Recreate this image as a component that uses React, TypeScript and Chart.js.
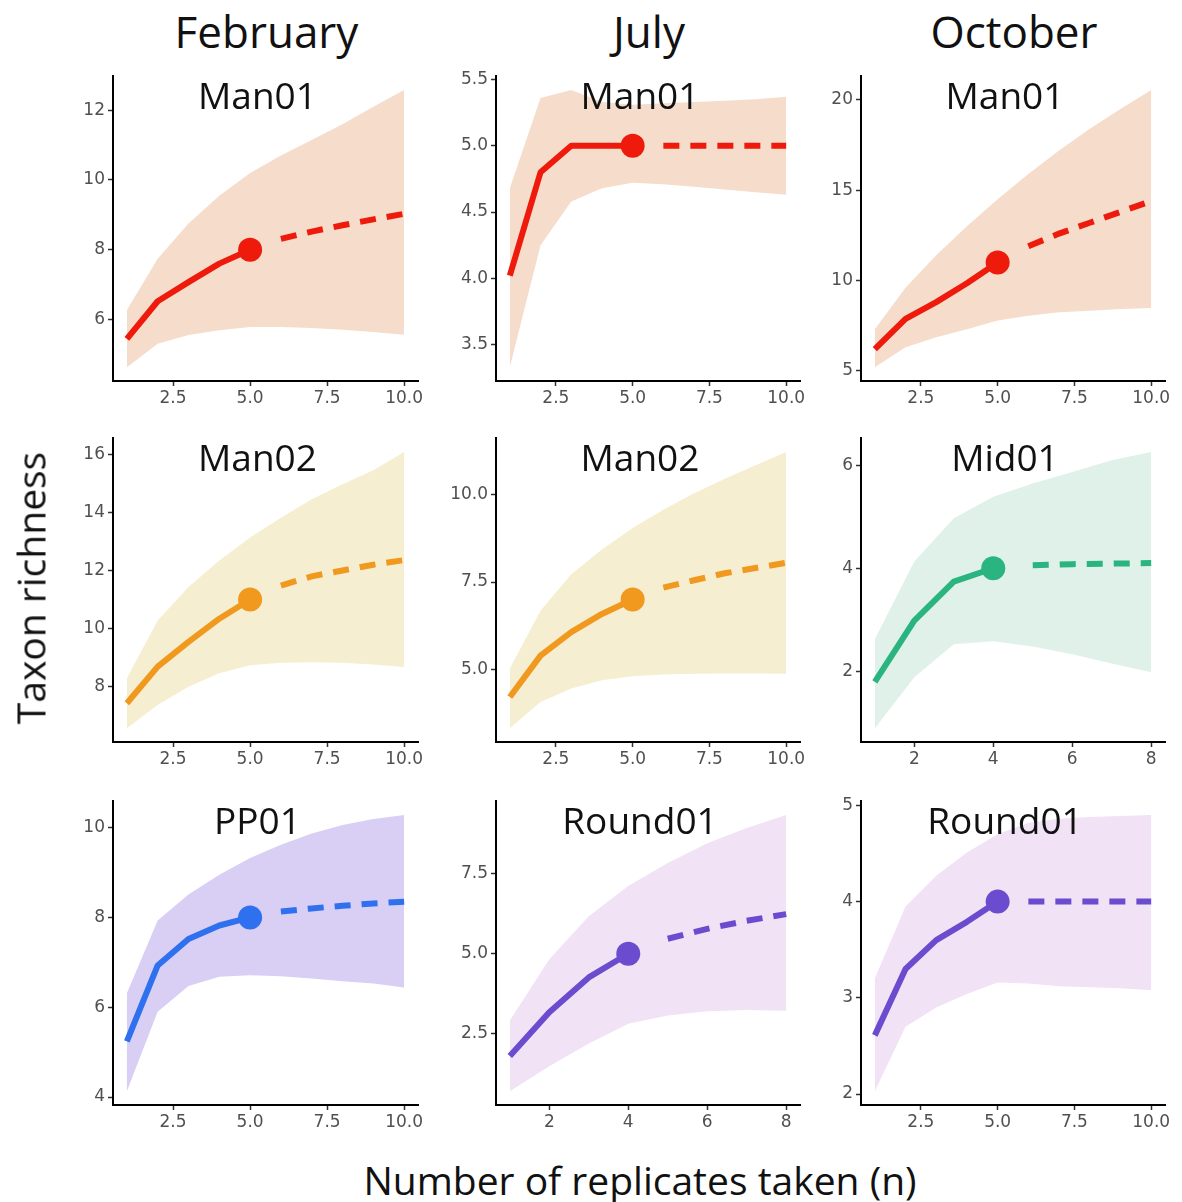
import React, { useEffect, useRef } from "react";
import { Chart, registerables } from "chart.js";

Chart.register(...registerables);

// ---------- data ----------
const xTen = [1, 2, 3, 4, 5, 6, 7, 8, 9, 10];
const xEight = [1, 2, 3, 4, 5, 6, 7, 8];
const xTickLabelsTen = ["2.5", "5.0", "7.5", "10.0"];
const xTickLabelsEight = ["2", "4", "6", "8"];

const monthLabels = ["February", "July", "October"];
const yAxisTitle = "Taxon richness";
const xAxisTitle = "Number of replicates taken (n)";

// February – Man01
const febMan01Obs = [5.44, 6.52, 7.07, 7.6, 8.0];
const febMan01Ext = [8.31, 8.52, 8.7, 8.87, 9.03];
const febMan01Lo = [4.63, 5.3, 5.55, 5.69, 5.78, 5.78, 5.75, 5.7, 5.64, 5.56];
const febMan01Hi = [6.27, 7.74, 8.75, 9.55, 10.2, 10.7, 11.15, 11.6, 12.1, 12.58];
const febMan01YTicks = ["6", "8", "10", "12"];

// July – Man01
const julMan01Obs = [4.02, 4.8, 5.0, 5.0, 5.0];
const julMan01Ext = [5.0, 5.0, 5.0, 5.0, 5.0];
const julMan01Lo = [3.33, 4.25, 4.58, 4.68, 4.72, 4.71, 4.69, 4.67, 4.65, 4.63];
const julMan01Hi = [4.68, 5.36, 5.42, 5.33, 5.31, 5.32, 5.33, 5.34, 5.35, 5.37];
const julMan01YTicks = ["3.5", "4.0", "4.5", "5.0", "5.5"];

// October – Man01
const octMan01Obs = [6.2, 7.87, 8.8, 9.85, 11.0];
const octMan01Ext = [11.9, 12.6, 13.2, 13.8, 14.4];
const octMan01Lo = [5.2, 6.3, 6.85, 7.3, 7.78, 8.05, 8.24, 8.33, 8.42, 8.48];
const octMan01Hi = [7.3, 9.6, 11.4, 13.0, 14.5, 15.9, 17.2, 18.4, 19.5, 20.55];
const octMan01YTicks = ["5", "10", "15", "20"];

// February – Man02
const febMan02Obs = [7.43, 8.69, 9.54, 10.34, 11.0];
const febMan02Ext = [11.48, 11.8, 12.0, 12.2, 12.36];
const febMan02Lo = [6.57, 7.37, 8.0, 8.46, 8.74, 8.82, 8.84, 8.82, 8.76, 8.68];
const febMan02Hi = [8.29, 10.28, 11.43, 12.34, 13.14, 13.82, 14.45, 14.97, 15.45, 16.08];
const febMan02YTicks = ["8", "10", "12", "14", "16"];

// July – Man02
const julMan02Obs = [4.22, 5.4, 6.07, 6.59, 7.0];
const julMan02Ext = [7.34, 7.55, 7.75, 7.9, 8.05];
const julMan02Lo = [3.33, 4.08, 4.46, 4.7, 4.81, 4.86, 4.88, 4.89, 4.89, 4.88];
const julMan02Hi = [5.03, 6.68, 7.72, 8.43, 9.04, 9.56, 10.03, 10.45, 10.83, 11.21];
const julMan02YTicks = ["5.0", "7.5", "10.0"];

// October – Mid01
const octMid01Obs = [1.79, 2.98, 3.74, 4.0];
const octMid01Ext = [4.06, 4.08, 4.09, 4.1];
const octMid01Lo = [0.89, 1.88, 2.52, 2.58, 2.48, 2.33, 2.15, 1.98];
const octMid01Hi = [2.62, 4.13, 4.97, 5.39, 5.65, 5.87, 6.1, 6.26];
const octMid01YTicks = ["2", "4", "6"];

// February – PP01
const febPP01Obs = [5.24, 6.93, 7.52, 7.82, 8.0];
const febPP01Ext = [8.13, 8.2, 8.26, 8.31, 8.35];
const febPP01Lo = [4.13, 5.9, 6.47, 6.68, 6.71, 6.69, 6.64, 6.58, 6.53, 6.44];
const febPP01Hi = [6.31, 7.93, 8.51, 8.95, 9.32, 9.62, 9.87, 10.06, 10.19, 10.28];
const febPP01YTicks = ["4", "6", "8", "10"];

// July – Round01
const julRound01Obs = [1.8, 3.17, 4.26, 5.0];
const julRound01Ext = [5.47, 5.78, 6.03, 6.24];
const julRound01Lo = [0.7, 1.48, 2.19, 2.81, 3.07, 3.2, 3.24, 3.22];
const julRound01Hi = [2.91, 4.83, 6.17, 7.12, 7.84, 8.46, 8.93, 9.34];
const julRound01YTicks = ["2.5", "5.0", "7.5"];

// October – Round01
const octRound01Obs = [2.61, 3.3, 3.6, 3.79, 4.0];
const octRound01Ext = [4.0, 4.0, 4.0, 4.0, 4.0];
const octRound01Lo = [2.03, 2.7, 2.9, 3.04, 3.16, 3.15, 3.12, 3.11, 3.1, 3.08];
const octRound01Hi = [3.2, 3.95, 4.27, 4.51, 4.7, 4.82, 4.86, 4.88, 4.89, 4.9];
const octRound01YTicks = ["2", "3", "4", "5"];

// ---------- styles ----------
const RED = "#ee1a0c";
const RED_FILL = "#f6dcca";
const ORANGE = "#f1981f";
const ORANGE_FILL = "#f6eed1";
const GREEN = "#2ab47f";
const GREEN_FILL = "#dff1e9";
const BLUE = "#2f70ef";
const BLUE_FILL = "#d9cff5";
const PURPLE = "#6b4cce";
const PURPLE_FILL = "#f1e2f6";

const COL_LEFT = [113, 496, 861];
const COL_W = [307, 306, 306];
const ROW_TOP = [73, 435, 798];
const ROW_H = [308, 307, 307];

type PanelSpec = {
  title: string;
  color: string;
  fill: string;
  xs: number[];
  xTicks: string[];
  yTicks: string[];
  obs: number[];
  ext: number[];
  lo: number[];
  hi: number[];
  col: number;
  row: number;
};

const panels: PanelSpec[] = [
  { title: "Man01", color: RED, fill: RED_FILL, xs: xTen, xTicks: xTickLabelsTen, yTicks: febMan01YTicks, obs: febMan01Obs, ext: febMan01Ext, lo: febMan01Lo, hi: febMan01Hi, col: 0, row: 0 },
  { title: "Man01", color: RED, fill: RED_FILL, xs: xTen, xTicks: xTickLabelsTen, yTicks: julMan01YTicks, obs: julMan01Obs, ext: julMan01Ext, lo: julMan01Lo, hi: julMan01Hi, col: 1, row: 0 },
  { title: "Man01", color: RED, fill: RED_FILL, xs: xTen, xTicks: xTickLabelsTen, yTicks: octMan01YTicks, obs: octMan01Obs, ext: octMan01Ext, lo: octMan01Lo, hi: octMan01Hi, col: 2, row: 0 },
  { title: "Man02", color: ORANGE, fill: ORANGE_FILL, xs: xTen, xTicks: xTickLabelsTen, yTicks: febMan02YTicks, obs: febMan02Obs, ext: febMan02Ext, lo: febMan02Lo, hi: febMan02Hi, col: 0, row: 1 },
  { title: "Man02", color: ORANGE, fill: ORANGE_FILL, xs: xTen, xTicks: xTickLabelsTen, yTicks: julMan02YTicks, obs: julMan02Obs, ext: julMan02Ext, lo: julMan02Lo, hi: julMan02Hi, col: 1, row: 1 },
  { title: "Mid01", color: GREEN, fill: GREEN_FILL, xs: xEight, xTicks: xTickLabelsEight, yTicks: octMid01YTicks, obs: octMid01Obs, ext: octMid01Ext, lo: octMid01Lo, hi: octMid01Hi, col: 2, row: 1 },
  { title: "PP01", color: BLUE, fill: BLUE_FILL, xs: xTen, xTicks: xTickLabelsTen, yTicks: febPP01YTicks, obs: febPP01Obs, ext: febPP01Ext, lo: febPP01Lo, hi: febPP01Hi, col: 0, row: 2 },
  { title: "Round01", color: PURPLE, fill: PURPLE_FILL, xs: xEight, xTicks: xTickLabelsEight, yTicks: julRound01YTicks, obs: julRound01Obs, ext: julRound01Ext, lo: julRound01Lo, hi: julRound01Hi, col: 1, row: 2 },
  { title: "Round01", color: PURPLE, fill: PURPLE_FILL, xs: xTen, xTicks: xTickLabelsTen, yTicks: octRound01YTicks, obs: octRound01Obs, ext: octRound01Ext, lo: octRound01Lo, hi: octRound01Hi, col: 2, row: 2 },
];

const PAD_L = 60;
const PAD_T = 10;
const PAD_R = 10;
const PAD_B = 35;
const TICK_FONT = { family: '"DejaVu Sans", "Liberation Sans", Arial, sans-serif', size: 17 };
const LINE_W = 6;

function Panel({ spec }: { spec: PanelSpec }) {
  const ref = useRef<HTMLCanvasElement | null>(null);
  const plotW = COL_W[spec.col];
  const plotH = ROW_H[spec.row];
  const W = plotW + PAD_L + PAD_R;
  const H = plotH + PAD_T + PAD_B;

  useEffect(() => {
    if (!ref.current) return;
    const xs = spec.xs;
    const nObs = spec.obs.length;
    const xMinD = xs[0];
    const xMaxD = xs[xs.length - 1];
    const xr = xMaxD - xMinD;
    const yMinD = Math.min(...spec.lo, ...spec.obs);
    const yMaxD = Math.max(...spec.hi, ...spec.obs, ...spec.ext);
    const yr = yMaxD - yMinD;
    const xTickVals = spec.xTicks.map((s) => parseFloat(s));
    const yTickVals = spec.yTicks.map((s) => parseFloat(s));

    const obsData = spec.obs.map((y, i) => ({ x: xs[i], y }));
    const extData = spec.ext.map((y, i) => ({ x: xs[nObs + i], y }));
    const loData = spec.lo.map((y, i) => ({ x: xs[i], y }));
    const hiData = spec.hi.map((y, i) => ({ x: xs[i], y }));

    const chart = new Chart(ref.current, {
      type: "line",
      data: {
        datasets: [
          {
            data: obsData,
            borderColor: spec.color,
            backgroundColor: spec.color,
            borderWidth: LINE_W,
            borderCapStyle: "butt",
            borderJoinStyle: "round",
            pointRadius: obsData.map((_, i) => (i === nObs - 1 ? 12 : 0)),
            pointBackgroundColor: spec.color,
            pointBorderWidth: 0,
            pointHoverRadius: 0,
            fill: false,
            tension: 0,
            order: 0,
          },
          {
            data: extData,
            borderColor: spec.color,
            borderWidth: LINE_W,
            borderDash: [16, 11],
            borderCapStyle: "butt",
            pointRadius: 0,
            fill: false,
            tension: 0,
            order: 1,
          },
          {
            data: loData,
            borderWidth: 0,
            borderColor: "rgba(0,0,0,0)",
            pointRadius: 0,
            fill: false,
            tension: 0,
            order: 5,
          },
          {
            data: hiData,
            borderWidth: 0,
            borderColor: "rgba(0,0,0,0)",
            backgroundColor: spec.fill,
            pointRadius: 0,
            fill: "-1",
            tension: 0,
            order: 5,
          },
        ],
      },
      options: {
        animation: false,
        responsive: false,
        devicePixelRatio: 1,
        events: [],
        layout: { padding: { left: 5, top: PAD_T, right: PAD_R, bottom: 0 } },
        plugins: {
          legend: { display: false },
          tooltip: { enabled: false },
          title: { display: false },
          filler: { drawTime: "beforeDatasetsDraw" },
        },
        scales: {
          x: {
            type: "linear",
            min: xMinD - 0.05 * xr,
            max: xMaxD + 0.05 * xr,
            afterBuildTicks: (s: any) => {
              s.ticks = xTickVals.map((v) => ({ value: v }));
            },
            afterFit: (s: any) => {
              s.height = PAD_B;
            },
            grid: {
              display: true,
              drawOnChartArea: false,
              drawTicks: true,
              tickLength: 5,
              tickColor: "#333333",
              tickWidth: 1.5,
            },
            border: { display: true, color: "#000000", width: 2 },
            ticks: {
              color: "#505050",
              font: TICK_FONT,
              padding: 2,
              maxRotation: 0,
              autoSkip: false,
              callback: (_v: any, i: number) => spec.xTicks[i],
            },
          },
          y: {
            type: "linear",
            min: yMinD - 0.05 * yr,
            max: yMaxD + 0.05 * yr,
            afterBuildTicks: (s: any) => {
              s.ticks = yTickVals.map((v) => ({ value: v }));
            },
            afterFit: (s: any) => {
              s.width = PAD_L - 5;
            },
            grid: {
              display: true,
              drawOnChartArea: false,
              drawTicks: true,
              tickLength: 5,
              tickColor: "#333333",
              tickWidth: 1.5,
            },
            border: { display: true, color: "#000000", width: 2 },
            ticks: {
              color: "#505050",
              font: TICK_FONT,
              padding: 3,
              autoSkip: false,
              callback: (_v: any, i: number) => spec.yTicks[i],
            },
          },
        },
      } as any,
    });
    return () => chart.destroy();
  }, [spec]);

  const left = COL_LEFT[spec.col];
  const top = ROW_TOP[spec.row];
  return (
    <>
      <canvas
        ref={ref}
        width={W}
        height={H}
        style={{ position: "absolute", left: left - PAD_L, top: top - PAD_T, width: W, height: H }}
      />
      <div
        style={{
          position: "absolute",
          left: left + plotW / 2 - 9,
          top: top + 21,
          transform: "translate(-50%, -50%)",
          fontFamily: '"Open Sans", sans-serif',
          fontSize: 37,
          lineHeight: 1,
          color: "#111111",
          whiteSpace: "nowrap",
          pointerEvents: "none",
        }}
      >
        {spec.title}
      </div>
    </>
  );
}

export default function App() {
  return (
    <div
      style={{
        position: "absolute",
        left: 0,
        top: 0,
        width: 1182,
        height: 1202,
        background: "#ffffff",
        overflow: "hidden",
      }}
    >
      {monthLabels.map((m, i) => (
        <div
          key={m}
          style={{
            position: "absolute",
            left: COL_LEFT[i] + COL_W[i] / 2,
            top: 31,
            transform: "translate(-50%, -50%)",
            fontFamily: '"Open Sans", sans-serif',
            fontSize: 44,
            lineHeight: 1,
            color: "#111111",
            whiteSpace: "nowrap",
          }}
        >
          {m}
        </div>
      ))}
      {panels.map((p, i) => (
        <Panel key={i} spec={p} />
      ))}
      <div
        style={{
          position: "absolute",
          left: 30,
          top: 588,
          transform: "translate(-50%, -50%) rotate(-90deg)",
          fontFamily: '"Open Sans", sans-serif',
          fontSize: 39,
          lineHeight: 1,
          color: "#111111",
          whiteSpace: "nowrap",
        }}
      >
        {yAxisTitle}
      </div>
      <div
        style={{
          position: "absolute",
          left: 640,
          top: 1179,
          transform: "translate(-50%, -50%)",
          fontFamily: '"Open Sans", sans-serif',
          fontSize: 39,
          lineHeight: 1,
          color: "#111111",
          whiteSpace: "nowrap",
        }}
      >
        {xAxisTitle}
      </div>
    </div>
  );
}
